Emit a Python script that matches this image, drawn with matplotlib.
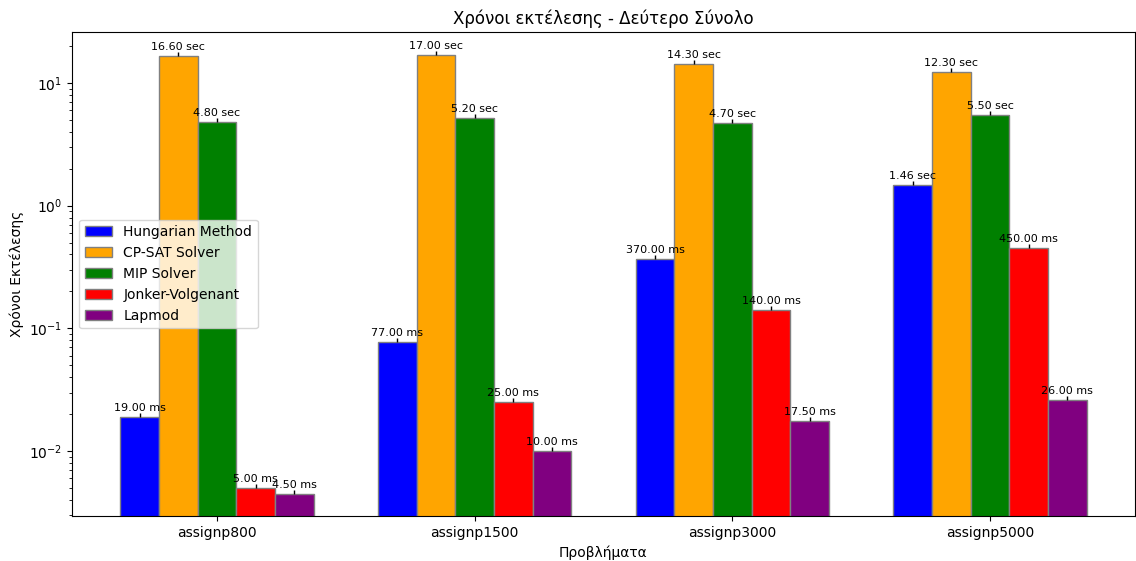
import matplotlib
matplotlib.use('Agg')
import matplotlib.pyplot as plt
import numpy as np

problems = ['assignp800', 'assignp1500', 'assignp3000', 'assignp5000']
methods = ['Hungarian Method', 'CP-SAT Solver', 'MIP Solver',
           'Jonker-Volgenant', 'Lapmod']
colors = ['blue', 'orange', 'green', 'red', 'purple']

# execution times in seconds
hungarian = [0.019, 0.077, 0.37, 1.46]
cpsat = [16.6, 17.0, 14.3, 12.3]
mip = [4.8, 5.2, 4.7, 5.5]
jv = [0.005, 0.025, 0.14, 0.45]
lapmod = [0.0045, 0.010, 0.0175, 0.026]
times = [hungarian, cpsat, mip, jv, lapmod]


def fmt(t):
    if t < 1:
        return '%.2f ms' % (t * 1000)
    return '%.2f sec' % t


fig = plt.figure(figsize=(11.36, 5.61), dpi=100)
ax = fig.add_axes([0.0634, 0.080, 0.9357, 0.863])

x = np.arange(len(problems))
width = 0.15
for i, (name, vals) in enumerate(zip(methods, times)):
    pos = x + (i - 2) * width
    vals = np.array(vals)
    ax.bar(pos, vals, width, color=colors[i], edgecolor='grey', label=name)
    ax.errorbar(pos, vals, yerr=[np.zeros_like(vals), vals * 0.08],
                fmt='none', ecolor='black', elinewidth=1)
    for p, v in zip(pos, vals):
        ax.annotate(fmt(v), (p, v * 1.08), xytext=(0, 0),
                    textcoords='offset points', ha='center', va='bottom',
                    fontsize=8)

ax.set_yscale('log')
ax.set_ylim(0.00295, 26)
ax.set_xticks(x)
ax.set_xticklabels(problems)
ax.set_xlabel('Προβλήματα')
ax.set_ylabel('Χρόνοι Εκτέλεσης')
ax.set_title('Χρόνοι εκτέλεσης - Δεύτερο Σύνολο')
ax.legend(loc='center left')

fig.savefig('out.png', dpi=100)
